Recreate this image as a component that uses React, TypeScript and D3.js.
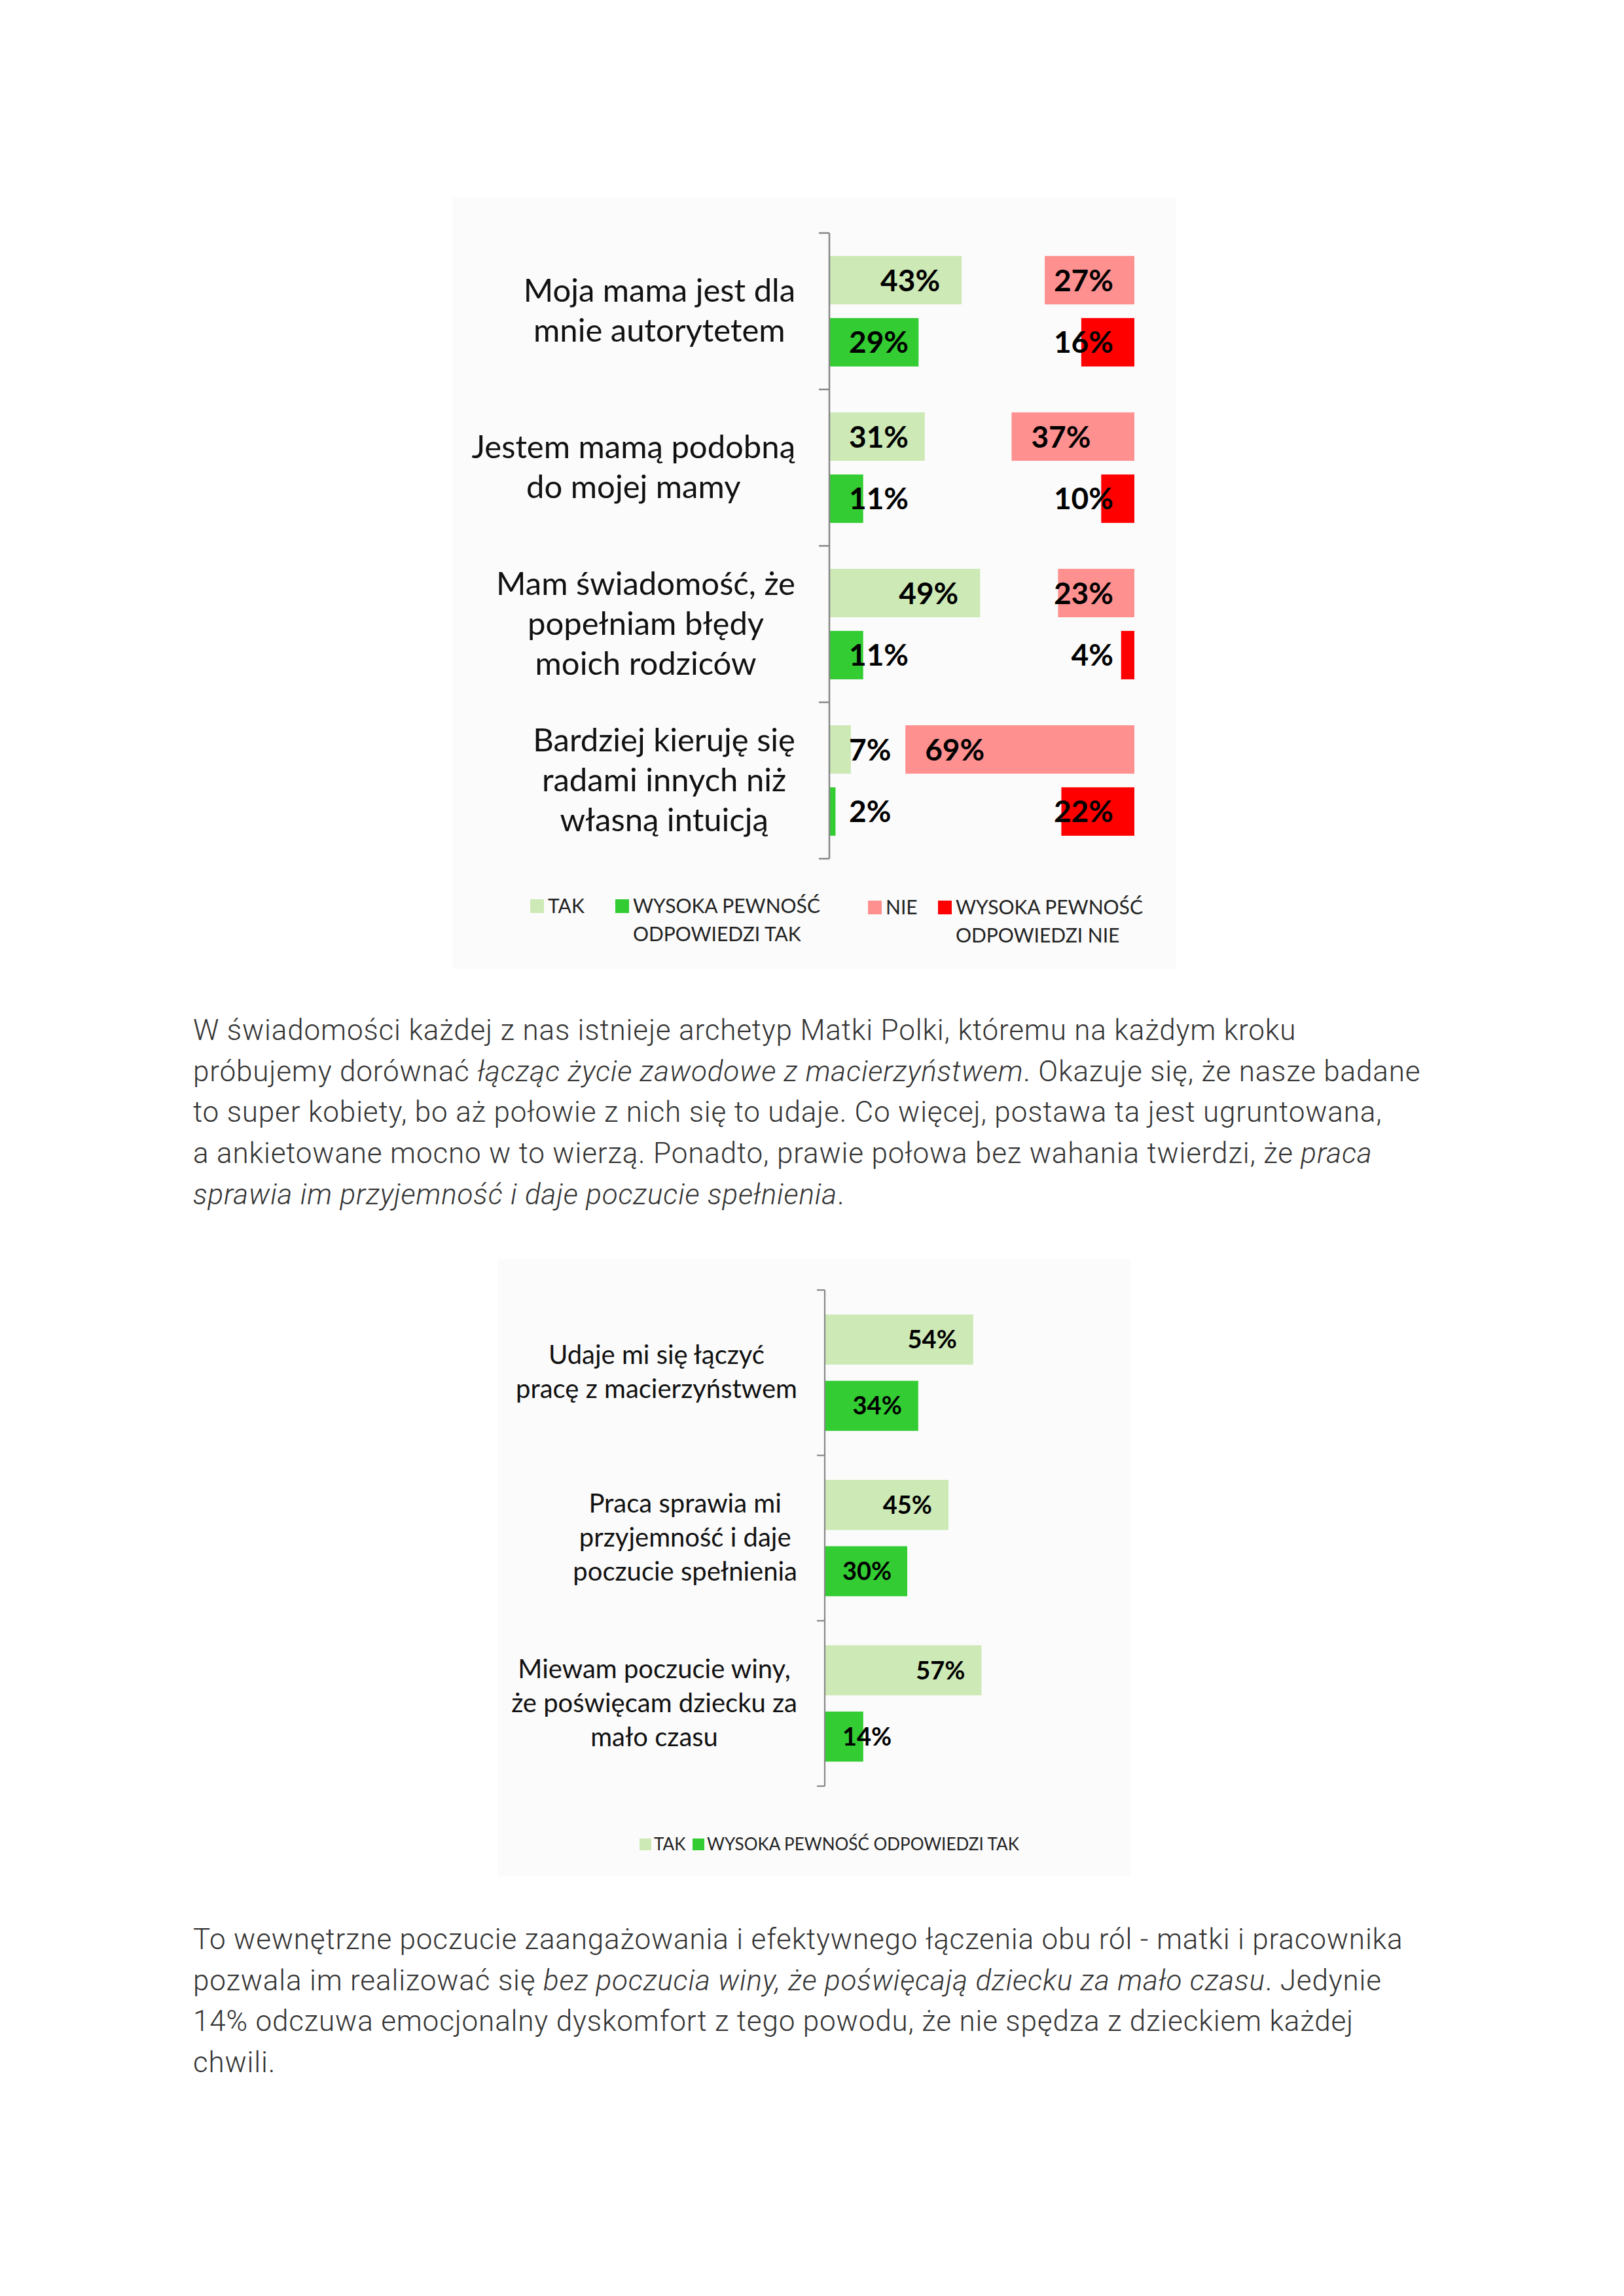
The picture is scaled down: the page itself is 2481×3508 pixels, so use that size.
import React, { useEffect, useRef } from "react";
import * as d3 from "d3";

const W = 2481;
const H = 3508;

// ---------- Chart 1 data ----------
const chart1Categories: string[][] = [
  ["Moja mama jest dla", "mnie autorytetem"],
  ["Jestem mamą podobną", "do mojej mamy"],
  ["Mam świadomość, że", "popełniam błędy", "moich rodziców"],
  ["Bardziej kieruję się", "radami innych niż", "własną intuicją"],
];
const chart1Tak = [43, 31, 49, 7];
const chart1TakHigh = [29, 11, 11, 2];
const chart1Nie = [27, 37, 23, 69];
const chart1NieHigh = [16, 10, 4, 22];
const chart1LegendLeft = [
  { lines: ["TAK"], color: "#cde9b6" },
  { lines: ["WYSOKA PEWNOŚĆ", "ODPOWIEDZI TAK"], color: "#33cc33" },
];
const chart1LegendRight = [
  { lines: ["NIE"], color: "#ff9090" },
  { lines: ["WYSOKA PEWNOŚĆ", "ODPOWIEDZI NIE"], color: "#ff0000" },
];

// ---------- Chart 2 data ----------
const chart2Categories: string[][] = [
  ["Udaje mi się łączyć", "pracę z macierzyństwem"],
  ["Praca sprawia mi", "przyjemność i daje", "poczucie spełnienia"],
  ["Miewam poczucie winy,", "że poświęcam dziecku za", "mało czasu"],
];
const chart2Tak = [54, 45, 57];
const chart2TakHigh = [34, 30, 14];
const chart2Legend = [
  { label: "TAK", color: "#cde9b6" },
  { label: "WYSOKA PEWNOŚĆ ODPOWIEDZI TAK", color: "#33cc33" },
];

// ---------- Paragraphs ----------
type Seg = [string, boolean];
const paragraph1: Seg[][] = [
  [["W świadomości każdej z nas istnieje archetyp Matki Polki, któremu na każdym kroku", false]],
  [
    ["próbujemy dorównać ", false],
    ["łącząc życie zawodowe z macierzyństwem", true],
    [". Okazuje się, że nasze badane", false],
  ],
  [["to super kobiety, bo aż połowie z nich się to udaje. Co więcej, postawa ta jest ugruntowana,", false]],
  [
    ["a ankietowane mocno w to wierzą. Ponadto, prawie połowa bez wahania twierdzi, że ", false],
    ["praca", true],
  ],
  [
    ["sprawia im przyjemność i daje poczucie spełnienia", true],
    [".", false],
  ],
];
const paragraph2: Seg[][] = [
  [["To wewnętrzne poczucie zaangażowania i efektywnego łączenia obu ról - matki i pracownika", false]],
  [
    ["pozwala im realizować się ", false],
    ["bez poczucia winy, że poświęcają dziecku za mało czasu", true],
    [". Jedynie", false],
  ],
  [["14% odczuwa emocjonalny dyskomfort z tego powodu, że nie spędza z dzieckiem każdej", false]],
  [["chwili.", false]],
];

const CHART_FONT = "Lato, 'Open Sans', sans-serif";
const TEXT_FONT = "Roboto, 'Open Sans', sans-serif";

type Sel = d3.Selection<SVGGElement, unknown, null, undefined>;

function textWidth(node: SVGTextElement | null): number {
  return node ? node.getComputedTextLength() : 0;
}

function drawCategoryLabels(
  g: Sel,
  cats: string[][],
  y: d3.ScaleBand<number>,
  rightEdge: number,
  fontSize: number,
  lineH: number,
  baseOff: number
) {
  cats.forEach((lines, i) => {
    const cy = (y(i) as number) + y.bandwidth() / 2;
    const nodes = lines.map((ln, j) =>
      g
        .append("text")
        .attr("font-family", CHART_FONT)
        .attr("font-size", fontSize)
        .attr("fill", "#111")
        .attr("text-anchor", "middle")
        .attr("y", cy + (j - (lines.length - 1) / 2) * lineH + baseOff)
        .text(ln)
    );
    const maxW = d3.max(nodes, (n) => textWidth(n.node())) || 0;
    nodes.forEach((n) => n.attr("x", rightEdge - maxW / 2));
  });
}

function drawChart1(root: d3.Selection<SVGSVGElement, unknown, null, undefined>) {
  const g = root.append("g") as unknown as Sel;
  g.append("rect")
    .attr("x", 692)
    .attr("y", 301)
    .attr("width", 1797 - 692)
    .attr("height", 1480 - 301)
    .attr("fill", "#fbfbfb");

  const axisX = 1267;
  const n = chart1Categories.length;
  const y = d3.scaleBand<number>().domain(d3.range(n)).range([356, 1312]);
  const inner = d3
    .scaleBand<string>()
    .domain(["main", "high"])
    .range([0, y.bandwidth()])
    .paddingInner(0.22)
    .paddingOuter(0.37);
  const xTak = d3.scaleLinear().domain([0, 100]).range([axisX, axisX + 470]);
  const redEdge = 1733;
  const xNie = d3.scaleLinear().domain([0, 100]).range([redEdge, redEdge - 507]);

  const series = [
    { vals: chart1Tak, key: "main", color: "#cde9b6", side: "tak" },
    { vals: chart1TakHigh, key: "high", color: "#33cc33", side: "tak" },
    { vals: chart1Nie, key: "main", color: "#ff9090", side: "nie" },
    { vals: chart1NieHigh, key: "high", color: "#ff0000", side: "nie" },
  ];
  const fs = 46;
  series.forEach((s) => {
    s.vals.forEach((v, i) => {
      const by = (y(i) as number) + (inner(s.key) as number);
      const bh = inner.bandwidth();
      if (s.side === "tak") {
        g.append("rect")
          .attr("x", axisX)
          .attr("y", by)
          .attr("width", xTak(v) - axisX)
          .attr("height", bh)
          .attr("fill", s.color);
      } else {
        g.append("rect")
          .attr("x", xNie(v))
          .attr("y", by)
          .attr("width", redEdge - xNie(v))
          .attr("height", bh)
          .attr("fill", s.color);
      }
    });
  });
  series.forEach((s) => {
    s.vals.forEach((v, i) => {
      const by = (y(i) as number) + (inner(s.key) as number);
      const cy = by + inner.bandwidth() / 2;
      const t = g
        .append("text")
        .attr("font-family", CHART_FONT)
        .attr("font-weight", 700)
        .attr("font-size", fs)
        .attr("fill", "#000")
        .attr("y", cy + 16.5)
        .text(`${v}%`);
      const tw = textWidth(t.node());
      if (s.side === "tak") {
        t.attr("x", Math.max(axisX + 30, xTak(v) - 33 - tw));
      } else {
        t.attr("x", Math.min(xNie(v) + 30, redEdge - 32 - tw));
      }
    });
  });

  g.append("line")
    .attr("x1", axisX)
    .attr("x2", axisX)
    .attr("y1", 356)
    .attr("y2", 1312)
    .attr("stroke", "#878787")
    .attr("stroke-width", 2.5);
  d3.range(n + 1).forEach((i) => {
    const ty = 356 + i * y.bandwidth();
    g.append("line")
      .attr("x1", axisX - 16)
      .attr("x2", axisX)
      .attr("y1", ty)
      .attr("y2", ty)
      .attr("stroke", "#878787")
      .attr("stroke-width", 2.5);
  });

  drawCategoryLabels(g, chart1Categories, y, 1215, 49, 61, 16);

  const legFs = 30;
  const drawLeg = (
    items: { lines: string[]; color: string }[],
    xs: number[],
    base: number
  ) => {
    items.forEach((it, k) => {
      g.append("rect")
        .attr("x", xs[k])
        .attr("y", base - 21)
        .attr("width", 21)
        .attr("height", 21)
        .attr("fill", it.color);
      it.lines.forEach((ln, j) => {
        g.append("text")
          .attr("font-family", CHART_FONT)
          .attr("font-size", legFs)
          .attr("fill", "#222")
          .attr("x", xs[k] + 27)
          .attr("y", base + j * 43)
          .text(ln);
      });
    });
  };
  drawLeg(chart1LegendLeft, [810, 940], 1395);
  drawLeg(chart1LegendRight, [1326, 1433], 1397);
}

function drawChart2(root: d3.Selection<SVGSVGElement, unknown, null, undefined>) {
  const g = root.append("g") as unknown as Sel;
  g.append("rect")
    .attr("x", 760)
    .attr("y", 1924)
    .attr("width", 1727 - 760)
    .attr("height", 2867 - 1924)
    .attr("fill", "#fbfbfb");

  const axisX = 1260;
  const n = chart2Categories.length;
  const y = d3.scaleBand<number>().domain(d3.range(n)).range([1971, 2729]);
  const inner = d3
    .scaleBand<string>()
    .domain(["main", "high"])
    .range([0, y.bandwidth()])
    .paddingInner(0.245)
    .paddingOuter(0.37);
  const x = d3.scaleLinear().domain([0, 100]).range([axisX, axisX + 420]);

  const series = [
    { vals: chart2Tak, key: "main", color: "#cde9b6" },
    { vals: chart2TakHigh, key: "high", color: "#33cc33" },
  ];
  series.forEach((s) => {
    s.vals.forEach((v, i) => {
      g.append("rect")
        .attr("x", axisX)
        .attr("y", (y(i) as number) + (inner(s.key) as number))
        .attr("width", x(v) - axisX)
        .attr("height", inner.bandwidth())
        .attr("fill", s.color);
    });
  });
  series.forEach((s) => {
    s.vals.forEach((v, i) => {
      const cy = (y(i) as number) + (inner(s.key) as number) + inner.bandwidth() / 2;
      const t = g
        .append("text")
        .attr("font-family", CHART_FONT)
        .attr("font-weight", 700)
        .attr("font-size", 38)
        .attr("fill", "#000")
        .attr("y", cy + 13.5)
        .text(`${v}%`);
      const tw = textWidth(t.node());
      t.attr("x", Math.max(axisX + 27, x(v) - 25 - tw));
    });
  });

  g.append("line")
    .attr("x1", axisX)
    .attr("x2", axisX)
    .attr("y1", 1971)
    .attr("y2", 2729)
    .attr("stroke", "#878787")
    .attr("stroke-width", 2.2);
  d3.range(n + 1).forEach((i) => {
    const ty = 1971 + i * y.bandwidth();
    g.append("line")
      .attr("x1", axisX - 12)
      .attr("x2", axisX)
      .attr("y1", ty)
      .attr("y2", ty)
      .attr("stroke", "#878787")
      .attr("stroke-width", 2.2);
  });

  drawCategoryLabels(g, chart2Categories, y, 1218, 40, 52, 13);

  const xs = [977, 1058];
  chart2Legend.forEach((it, k) => {
    g.append("rect")
      .attr("x", xs[k])
      .attr("y", 2809)
      .attr("width", 18)
      .attr("height", 18)
      .attr("fill", it.color);
    g.append("text")
      .attr("font-family", CHART_FONT)
      .attr("font-size", 26)
      .attr("fill", "#222")
      .attr("x", xs[k] + 22)
      .attr("y", 2827)
      .text(it.label);
  });
}

function drawParagraph(
  root: d3.Selection<SVGSVGElement, unknown, null, undefined>,
  lines: Seg[][],
  x0: number,
  base0: number,
  lineH: number
) {
  lines.forEach((segs, i) => {
    const t = root
      .append("text")
      .attr("font-family", TEXT_FONT)
      .attr("font-weight", 300)
      .attr("font-size", 44)
      .attr("letter-spacing", 0.85)
      .attr("fill", "#333333")
      .attr("x", x0)
      .attr("y", base0 + i * lineH)
      .attr("xml:space", "preserve")
      .style("white-space", "pre");
    segs.forEach(([txt, it]) => {
      t.append("tspan")
        .attr("font-style", it ? "italic" : "normal")
        .text(txt);
    });
  });
}

export default function App() {
  const ref = useRef<SVGSVGElement>(null);
  useEffect(() => {
    if (!ref.current) return;
    const svg = d3.select(ref.current);
    svg.selectAll("*").remove();
    svg.append("rect").attr("width", W).attr("height", H).attr("fill", "#ffffff");
    drawChart1(svg);
    drawParagraph(svg, paragraph1, 295, 1589, 62.7);
    drawChart2(svg);
    drawParagraph(svg, paragraph2, 295, 2978, 62.5);
  }, []);
  return (
    <svg
      ref={ref}
      width={W}
      height={H}
      style={{ position: "absolute", left: 0, top: 0, display: "block" }}
    />
  );
}
